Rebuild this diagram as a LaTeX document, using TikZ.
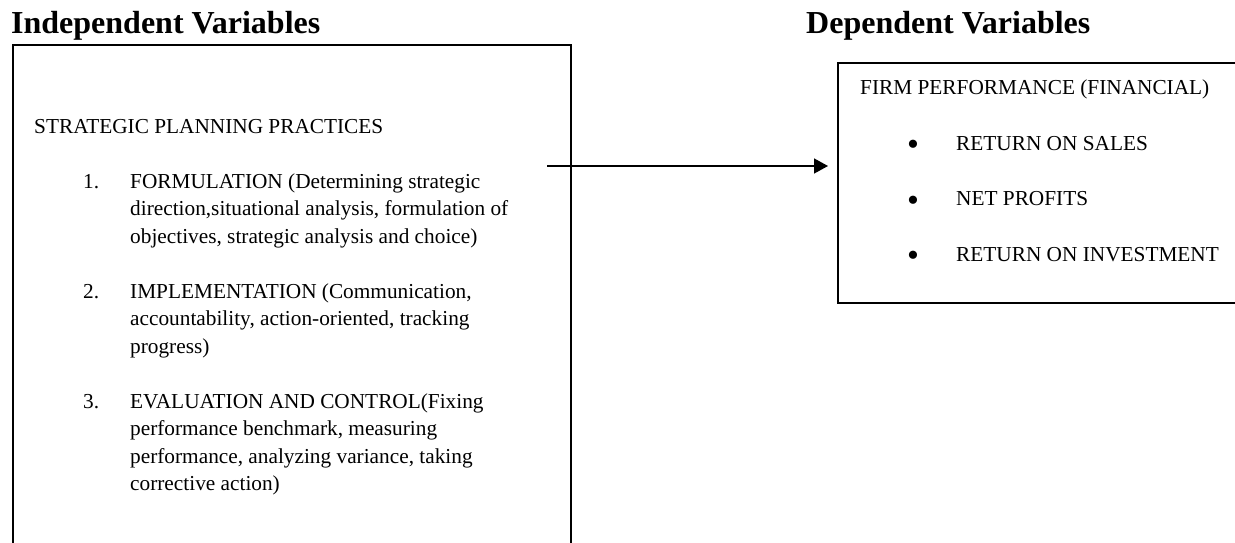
\documentclass[tikz,border=0pt]{standalone}
\usepackage{fontspec}
\setmainfont{Liberation Serif}
\usetikzlibrary{arrows.meta}
\begin{document}
\begin{tikzpicture}[x=1pt,y=-1pt,
  body/.style={anchor=base west,inner sep=0pt,font=\fontsize{21.3}{27.5}\selectfont},
  bul/.style={anchor=center,inner sep=0pt,font=\fontsize{34}{34}\selectfont},
  heading/.style={anchor=base west,inner sep=0pt,font=\fontsize{32}{38}\selectfont\bfseries},
  frame/.style={line width=1.6pt},
  link/.style={line width=1.6pt,-{Triangle[length=14pt,width=15pt]}}]
\useasboundingbox (0,0) rectangle (1235,543);
\fill[white] (0,0) rectangle (1235,543);
% headings
\node[heading] (hind) at (11,34) {Independent Variables};
\node[heading] (hdep) at (806,34) {Dependent Variables};
% left box (open at bottom)
\coordinate (lbl) at (13,545);
\coordinate (ltl) at (13,45);
\coordinate (ltr) at (571,45);
\coordinate (lbr) at (571,545);
\draw[frame] (lbl) -- (ltl) -- (ltr) -- (lbr);
% right box (open at right)
\coordinate (rtr) at (1237,63);
\coordinate (rtl) at (838,63);
\coordinate (rbl) at (838,303);
\coordinate (rbr) at (1237,303);
\draw[frame] (rtr) -- (rtl) -- (rbl) -- (rbr);
% left box text
\node[body] (spp) at (34,133) {STRATEGIC PLANNING PRACTICES};
\node[body] (n1) at (83,188) {1.};
\node[body] (i1a) at (130,188) {FORMULATION (Determining strategic};
\node[body] (i1b) at (130,215.5) {direction,situational analysis, formulation of};
\node[body] (i1c) at (130,243) {objectives, strategic analysis and choice)};
\node[body] (n2) at (83,298) {2.};
\node[body] (i2a) at (130,298) {IMPLEMENTATION (Communication,};
\node[body] (i2b) at (130,325.5) {accountability, action-oriented, tracking};
\node[body] (i2c) at (130,353) {progress)};
\node[body] (n3) at (83,408) {3.};
\node[body] (i3a) at (130,408) {EVALUATION AND CONTROL(Fixing};
\node[body] (i3b) at (130,435.5) {performance benchmark, measuring};
\node[body] (i3c) at (130,463) {performance, analyzing variance, taking};
\node[body] (i3d) at (130,490.5) {corrective action)};
% right box text
\node[body] (fp) at (860,95) {FIRM PERFORMANCE (FINANCIAL)};
\node[bul] (b1) at (913,148) {•};
\node[body] (t1) at (956,150) {RETURN ON SALES};
\node[bul] (b2) at (913,203.5) {•};
\node[body] (t2) at (956,205.5) {NET PROFITS};
\node[bul] (b3) at (913,259) {•};
\node[body] (t3) at (956,261) {RETURN ON INVESTMENT};
% arrow
\coordinate (as) at (547,166);
\coordinate (ae) at (828,166);
\draw[link] (as) -- (ae);
\end{tikzpicture}
\end{document}
